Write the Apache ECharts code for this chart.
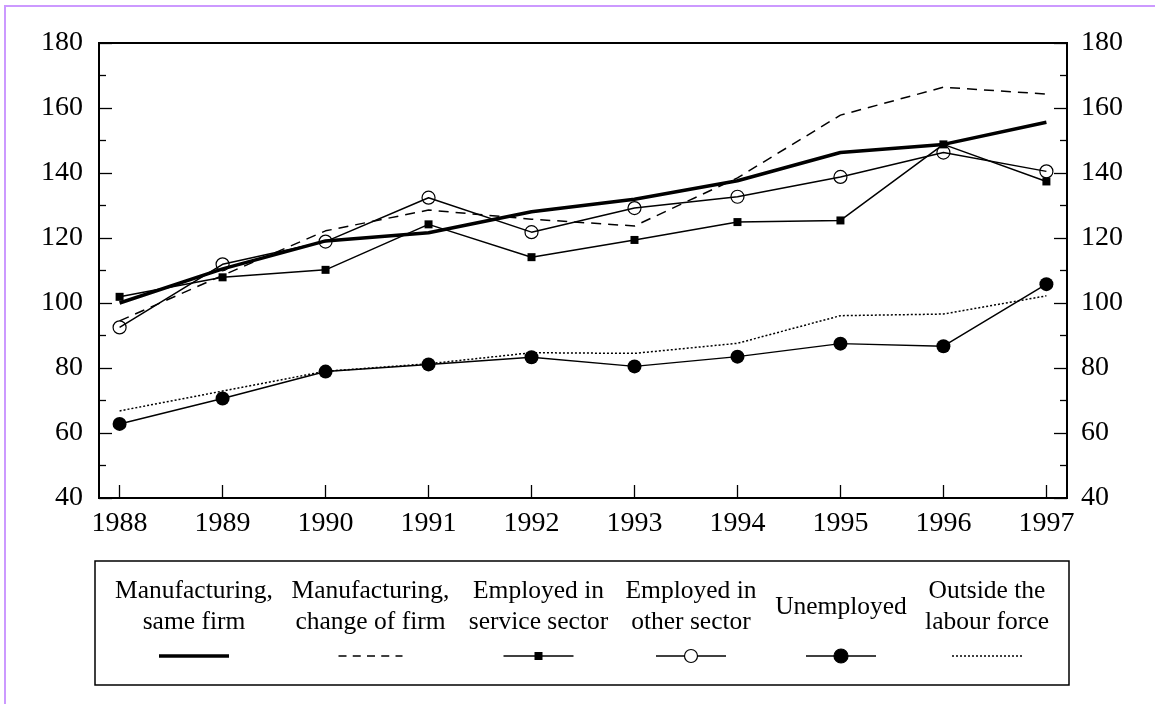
<!DOCTYPE html>
<html lang="en">
<head>
    <meta charset="UTF-8">
    <title>Index by labour market status 1988-1997</title>

    <!-- ECharts -->
    <script src="https://cdn.jsdelivr.net/npm/echarts@6/dist/echarts.min.js"></script>

    <style>
        html, body { margin: 0; padding: 0; background: #fff; }
        #chart { width: 1155px; height: 704px; }
    </style>
</head>
<body>
    <div id="chart"></div>

    <script type="text/javascript">
        // data
        var years = [1988, 1989, 1990, 1991, 1992, 1993, 1994, 1995, 1996, 1997];
        var sameFirm      = [100.0, 110.5, 119.1, 121.6, 128.1, 131.9, 137.6, 146.3, 148.8, 155.6];
        var changeFirm    = [94.5, 108.5, 122.2, 128.6, 125.8, 123.7, 138.5, 157.8, 166.4, 164.3];
        var serviceSector = [101.9, 107.9, 110.2, 124.2, 114.1, 119.4, 124.9, 125.4, 148.8, 137.4];
        var otherSector   = [92.5, 111.9, 118.9, 132.4, 121.8, 129.2, 132.7, 138.8, 146.3, 140.5];
        var unemployed    = [62.8, 70.6, 78.9, 81.1, 83.3, 80.5, 83.5, 87.5, 86.7, 105.8];
        var outsideLabour = [66.8, 72.9, 79.0, 81.3, 84.7, 84.5, 87.6, 96.1, 96.6, 102.2];

        var yMin = 40, yMax = 180, yStep = 20;
        var legendLabels = [
            'Manufacturing,\nsame firm',
            'Manufacturing,\nchange of firm',
            'Employed in\nservice sector',
            'Employed in\nother sector',
            'Unemployed',
            'Outside the\nlabour force'
        ];

        var serif = '"Liberation Serif", "Times New Roman", serif';

        function pairs(values) {
            return years.map(function (y, i) { return [y, values[i]]; });
        }

        // looks of each series (also used for the legend samples)
        var looks = [
            { width: 3.5, type: 'solid', symbol: 'none' },
            { width: 1.5, type: [10, 7], symbol: 'none' },
            { width: 1.5, type: 'solid', symbol: 'rect', size: 8, fill: '#000' },
            { width: 1.5, type: 'solid', symbol: 'circle', size: 13, fill: 'rgba(0,0,0,0)' },
            { width: 1.5, type: 'solid', symbol: 'circle', size: 14, fill: '#000' },
            { width: 1.5, type: [2, 2], symbol: 'none' }
        ];
        var seriesData = [sameFirm, changeFirm, serviceSector, otherSector, unemployed, outsideLabour];

        var series = seriesData.map(function (vals, i) {
            var lk = looks[i];
            return {
                name: legendLabels[i].replace('\n', ' '),
                type: 'line',
                data: pairs(vals),
                symbol: lk.symbol,
                symbolSize: lk.size || 0,
                showSymbol: lk.symbol !== 'none',
                lineStyle: { color: '#000', width: lk.width, type: lk.type },
                itemStyle: { color: lk.fill || '#000', borderColor: '#000', borderWidth: i === 3 ? 1.2 : 0 },
                emphasis: { disabled: true },
                animation: false
            };
        });

        // legend drawn by hand: two-line labels centred above a line sample
        var legendX = [194, 370.5, 538.5, 691, 841, 987];
        var legendItems = [];
        legendLabels.forEach(function (label, i) {
            var cx = legendX[i], lk = looks[i];
            var half = i === 1 ? 32 : 35;
            legendItems.push({
                type: 'text',
                style: {
                    text: label, x: cx, y: 607,
                    align: 'center', verticalAlign: 'middle',
                    font: '25.5px ' + serif, lineHeight: 31, fill: '#000'
                }
            });
            legendItems.push({
                type: 'line',
                shape: { x1: cx - half, y1: 656, x2: cx + half, y2: 656 },
                style: {
                    stroke: '#000', lineWidth: lk.width,
                    lineDash: i === 1 ? [8, 6.25] : (Array.isArray(lk.type) ? lk.type : null)
                }
            });
            if (lk.symbol === 'rect') {
                legendItems.push({ type: 'rect', shape: { x: cx - 4, y: 652, width: 8, height: 8 }, style: { fill: '#000' } });
            } else if (lk.symbol === 'circle') {
                legendItems.push({
                    type: 'circle', shape: { cx: cx, cy: 656, r: lk.size / 2 },
                    style: { fill: i === 3 ? '#fff' : '#000', stroke: '#000', lineWidth: 1.2 }
                });
            }
        });

        var yAxisBase = function (pos, margin) {
            return {
                type: 'value', position: pos,
                min: yMin, max: yMax, interval: yStep,
                axisLine: { show: true, lineStyle: { color: '#000', width: 2 } },
                axisTick: { show: true, inside: true, length: 13, lineStyle: { color: '#000', width: 1.3 } },
                minorTick: { show: true, splitNumber: 2, length: 7, lineStyle: { color: '#000', width: 1.3 } },
                axisLabel: { color: '#000', fontSize: 28, fontFamily: serif, margin: margin, padding: [5, 0, 0, 0] },
                splitLine: { show: false },
                minorSplitLine: { show: false }
            };
        };

        var chart = echarts.init(document.getElementById('chart'));
        chart.setOption({
            animation: false,
            backgroundColor: '#fff',
            grid: {
                left: 99, right: 88, top: 43, bottom: 206,
                show: true, borderColor: '#000', borderWidth: 2,
                containLabel: false, outerBoundsMode: 'none'
            },
            xAxis: {
                type: 'value', min: 1987.8, max: 1997.2,
                axisLine: { show: true, lineStyle: { color: '#000', width: 2 } },
                axisTick: { show: true, inside: true, length: 13, customValues: years, lineStyle: { color: '#000', width: 1.3 } },
                axisLabel: {
                    customValues: years, color: '#000', fontSize: 28, fontFamily: serif, margin: 12,
                    formatter: function (v) { return String(v); }
                },
                splitLine: { show: false }
            },
            yAxis: [yAxisBase('left', 16), yAxisBase('right', 14)],
            series: series,
            graphic: [
                // purple page frame (only left and top edges are in view)
                {
                    type: 'polyline',
                    shape: { points: [[5, 704], [5, 6], [1155, 6]] },
                    style: { stroke: '#cc99ff', lineWidth: 2, fill: null }
                },
                {
                    type: 'rect',
                    shape: { x: 95, y: 561, width: 974, height: 124 },
                    style: { stroke: '#000', lineWidth: 1.5, fill: '#fff' }
                },
                { type: 'group', children: legendItems }
            ]
        });
    </script>
</body>
</html>
